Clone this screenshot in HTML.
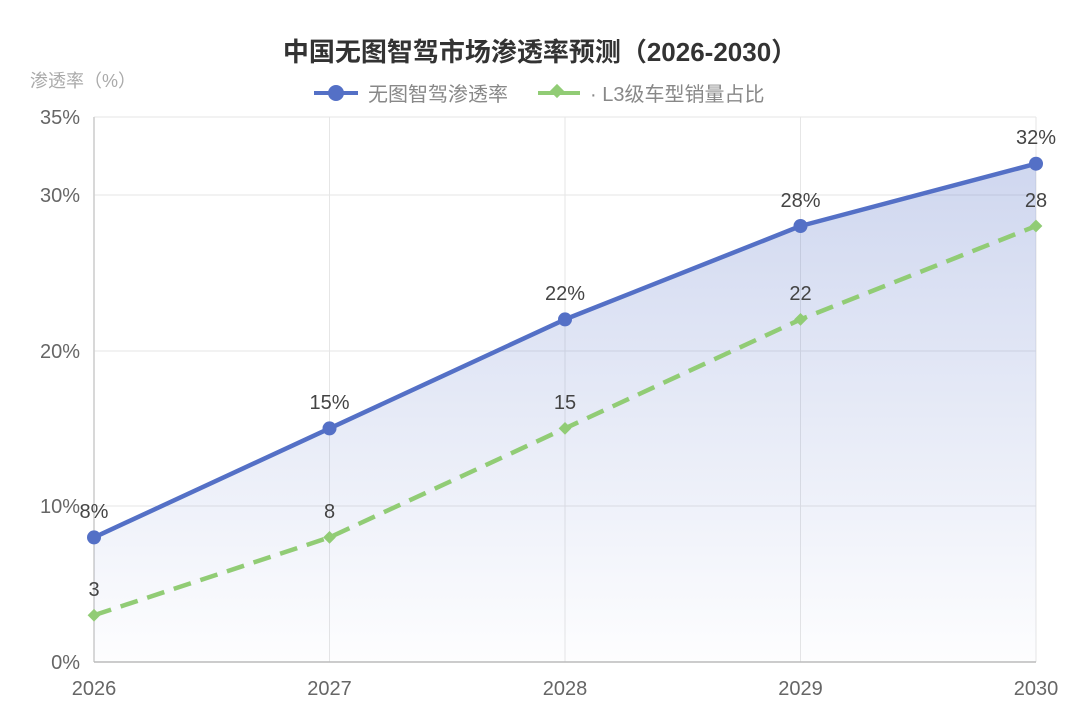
<!DOCTYPE html>
<html><head><meta charset="utf-8"><style>
html,body{margin:0;padding:0;background:#fff;}
svg{display:block;font-family:"Liberation Sans","Noto Sans CJK SC",sans-serif;}
</style></head><body>
<svg width="1080" height="720" viewBox="0 0 1080 720">
<defs>
<linearGradient id="g" x1="0" y1="0" x2="0" y2="1">
<stop offset="0" stop-color="#5470c6" stop-opacity="0.28"/>
<stop offset="1" stop-color="#5470c6" stop-opacity="0.01"/>
</linearGradient>
</defs>
<text x="540" y="61" text-anchor="middle" font-size="26" font-weight="bold" fill="#333">中国无图智驾市场渗透率预测（2026-2030）</text>
<text x="30" y="87" font-size="18" fill="#aaa">渗透率（%）</text>
<line x1="314" y1="93" x2="358" y2="93" stroke="#5470c6" stroke-width="4"/>
<circle cx="336" cy="93" r="8" fill="#5470c6"/>
<text x="368" y="101" font-size="20" fill="#888">无图智驾渗透率</text>
<line x1="538" y1="93" x2="580" y2="93" stroke="#91cc75" stroke-width="4"/>
<rect x="552" y="86" width="10" height="10" fill="#91cc75" transform="rotate(45 557 91)"/>
<text x="590" y="101" font-size="20" fill="#888">· L3级车型销量占比</text>
<g stroke="#e6e6e6" stroke-width="1">
<line x1="94" y1="117" x2="1036" y2="117"/>
<line x1="94" y1="195" x2="1036" y2="195"/>
<line x1="94" y1="351" x2="1036" y2="351"/>
<line x1="94" y1="506" x2="1036" y2="506"/>
<line x1="329.5" y1="117" x2="329.5" y2="662"/>
<line x1="565" y1="117" x2="565" y2="662"/>
<line x1="800.5" y1="117" x2="800.5" y2="662"/>
<line x1="1036" y1="117" x2="1036" y2="662"/>
</g>
<line x1="94" y1="117" x2="94" y2="662" stroke="#ccc" stroke-width="1.5"/>
<line x1="94" y1="662" x2="1036" y2="662" stroke="#bbb" stroke-width="1.5"/>
<g font-size="20" fill="#666" text-anchor="end">
<text x="80" y="124">35%</text>
<text x="80" y="202">30%</text>
<text x="80" y="358">20%</text>
<text x="80" y="513">10%</text>
<text x="80" y="669">0%</text>
</g>
<g font-size="20" fill="#666" text-anchor="middle">
<text x="94" y="695">2026</text>
<text x="329.5" y="695">2027</text>
<text x="565" y="695">2028</text>
<text x="800.5" y="695">2029</text>
<text x="1036" y="695">2030</text>
</g>
<polygon points="94,537.4 329.5,428.4 565,319.4 800.5,226 1036,163.7 1036,662 94,662" fill="url(#g)"/>
<polyline points="94,537.4 329.5,428.4 565,319.4 800.5,226 1036,163.7" fill="none" stroke="#5470c6" stroke-width="4.5" stroke-linejoin="round"/>
<polyline points="94,615.3 329.5,537.4 565,428.4 800.5,319.4 1036,226" fill="none" stroke="#91cc75" stroke-width="4.5" stroke-dasharray="18,10"/>
<g fill="#5470c6">
<circle cx="94" cy="537.4" r="7"/><circle cx="329.5" cy="428.4" r="7"/><circle cx="565" cy="319.4" r="7"/><circle cx="800.5" cy="226" r="7"/><circle cx="1036" cy="163.7" r="7"/>
</g>
<g fill="#91cc75">
<rect x="89.5" y="610.8" width="9" height="9" transform="rotate(45 94 615.3)"/>
<rect x="325" y="532.9" width="9" height="9" transform="rotate(45 329.5 537.4)"/>
<rect x="560.5" y="423.9" width="9" height="9" transform="rotate(45 565 428.4)"/>
<rect x="796" y="314.9" width="9" height="9" transform="rotate(45 800.5 319.4)"/>
<rect x="1031.5" y="221.5" width="9" height="9" transform="rotate(45 1036 226)"/>
</g>
<g font-size="20" fill="#444" text-anchor="middle">
<text x="94" y="518">8%</text>
<text x="329.5" y="409">15%</text>
<text x="565" y="300">22%</text>
<text x="800.5" y="207">28%</text>
<text x="1036" y="144">32%</text>
<text x="94" y="596">3</text>
<text x="329.5" y="518">8</text>
<text x="565" y="409">15</text>
<text x="800.5" y="300">22</text>
<text x="1036" y="207">28</text>
</g>
</svg>
</body></html>
